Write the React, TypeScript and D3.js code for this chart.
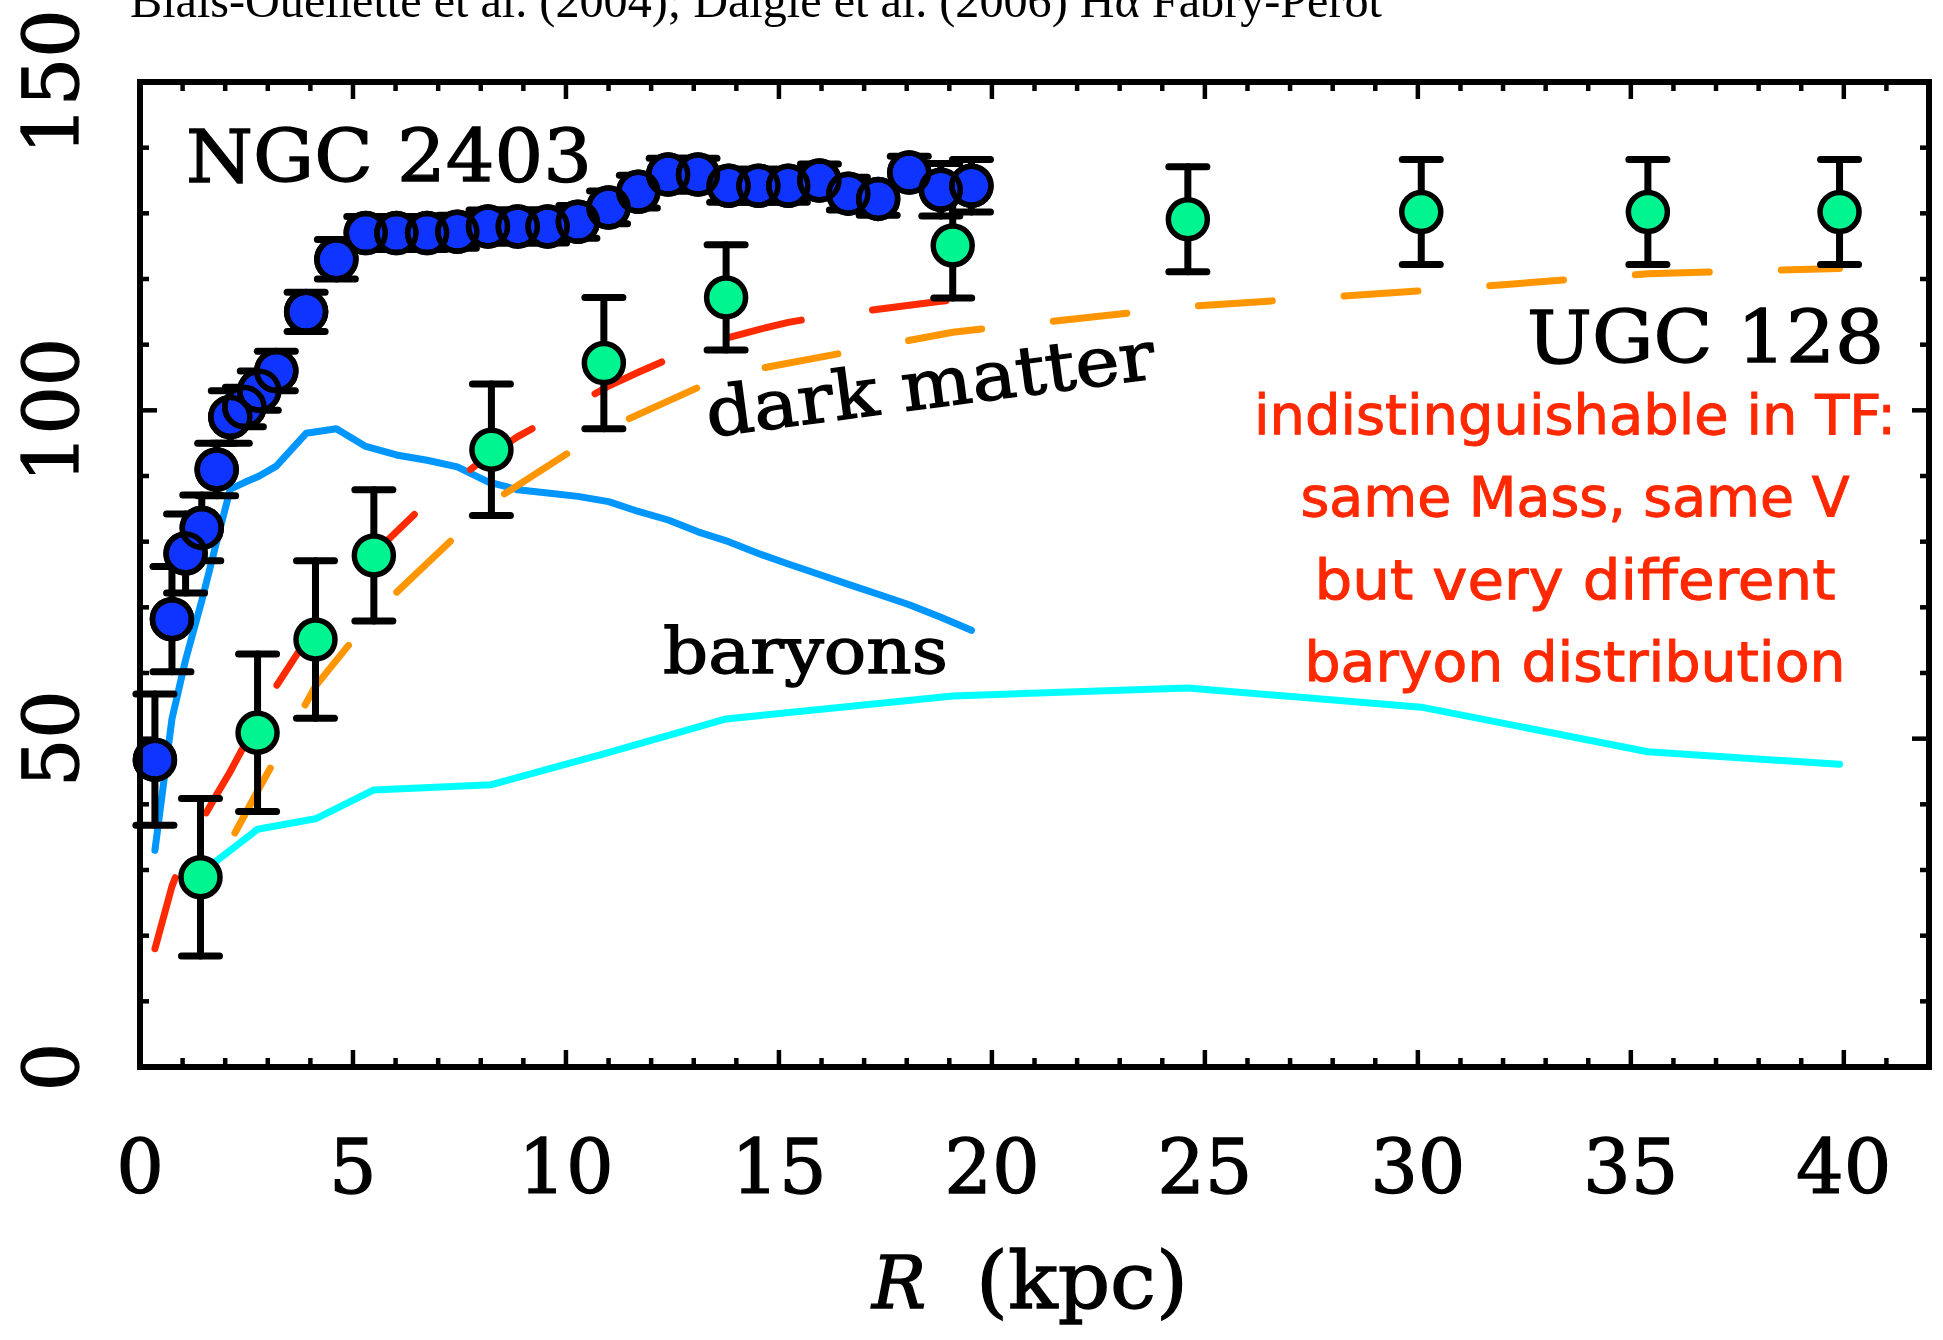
import React, { useEffect } from "react";
import * as d3 from "d3";

// ---- NGC 2403 (Hα Fabry-Perot rotation curve) ----
const ngcR = [0.35, 0.75, 1.07, 1.45, 1.8, 2.12, 2.45, 2.8, 3.2, 3.9, 4.61, 5.3, 6.02, 6.74, 7.45, 8.17, 8.87, 9.57, 10.28, 11.0, 11.7, 12.4, 13.1, 13.82, 14.52, 15.22, 15.95, 16.63, 17.33, 18.06, 18.8, 19.52];
const ngcV = [46.8, 68.2, 78.2, 82.1, 91.0, 99.0, 100.5, 103.0, 106.0, 115.0, 123.0, 127.0, 127.0, 127.0, 127.2, 128.0, 128.0, 128.0, 128.7, 130.9, 133.3, 135.9, 135.9, 134.2, 134.2, 134.2, 135.0, 133.0, 132.2, 136.2, 133.6, 134.2];
const ngcErr = [10, 8, 6, 5, 4, 4, 3, 3, 3, 3, 3, 2.5, 2.5, 2.5, 2.5, 2.5, 2.5, 2.5, 2.5, 2.5, 2.5, 2.5, 2.5, 2.5, 2.5, 2.5, 2.5, 2.5, 2.5, 2.5, 4, 4];
const ngcBaryons = [33, 53, 62, 71, 80, 88, 89, 90, 91.5, 96.5, 97.2, 94.5, 93.2, 92.4, 91.4, 89.1, 87.9, 87.4, 86.9, 86.1, 84.6, 83.3, 81.5, 80, 78.2, 76.6, 75, 73.5, 72, 70.4, 68.5, 66.5];
const ngcDarkMatter = [18, 27.5, 33, 37.5, 41.5, 45, 49, 53.5, 58, 65, 71, 77, 81.5, 86, 89.5, 93, 96, 98.5, 101, 103.7, 105.8, 107.8, 109.6, 111.1, 112.3, 113.4, 114.2, 114.8, 115.4, 116.0, 116.6, 117.2];

// ---- UGC 128 ----
const ugcR = [1.42, 2.76, 4.12, 5.49, 8.25, 10.89, 13.76, 19.08, 24.6, 30.08, 35.4, 39.9];
const ugcV = [28.9, 50.9, 65.1, 77.9, 94.0, 107.2, 117.2, 125.1, 129.1, 130.2, 130.2, 130.2];
const ugcErr = [12, 12, 12, 10, 10, 10, 8, 8, 8, 8, 8, 8];
const ugcBaryons = [29.5, 36.2, 37.8, 42.2, 43.0, 47.7, 53.0, 56.5, 57.7, 54.8, 48.0, 46.1];
const ugcDarkMatter = [26, 42, 58, 69, 86, 97, 105.4, 111.9, 115.8, 118.2, 120.8, 121.6];

// ---- axes ----
const xMajorTicks = [0, 5, 10, 15, 20, 25, 30, 35, 40];
const yMajorTicks = [0, 50, 100, 150];
const xDomain = [0, 42];
const yDomain = [0, 150];

const titleText = "Blais-Ouellette et al. (2004); Daigle et al. (2006) Hα Fabry-Perot";
const noteLines = ["indistinguishable in TF:", "same Mass, same V", "but very different", "baryon distribution"];
const noteWidths = [642, 549, 521, 541];

const W = 1943;
const H = 1340;
const plot = { left: 140, right: 1929, top: 82, bottom: 1067 };

const C = {
  ngcFill: "#1034ff",
  ugcFill: "#00f590",
  ngcBaryon: "#0096ff",
  ugcBaryon: "#00ffff",
  ngcDM: "#ff2a00",
  ugcDM: "#ff9600",
  note: "#ff2800",
};

const serif = "'DejaVu Serif', serif";

export default function App() {
  useEffect(() => {
    document.body.style.margin = "0";
  }, []);

  const x = d3.scaleLinear().domain(xDomain).range([plot.left, plot.right]);
  const y = d3.scaleLinear().domain(yDomain).range([plot.bottom, plot.top]);

  const line = d3
    .line<[number, number]>()
    .x((d) => x(d[0]))
    .y((d) => y(d[1]));

  const zip = (a: number[], b: number[]) => a.map((v, i) => [v, b[i]] as [number, number]);

  const xMinor = d3.range(0, 43, 1).filter((v) => v % 5 !== 0);
  const yMinor = d3.range(0, 151, 10).filter((v) => v % 50 !== 0);

  const majorLen = 17;
  const minorLen = 9;
  const tickW = 4.5;
  const capHalf = 19;
  const symR = 19.5;
  const symStroke = 5.5;
  const barW = 7;
  const lineW = 7;
  const txt = { stroke: "#000", strokeWidth: 1.3 };

  const errorBars = (rs: number[], vs: number[], es: number[], key: string) =>
    rs.map((r, i) => {
      const cx = x(r);
      const y0 = y(vs[i] - es[i]);
      const y1 = y(vs[i] + es[i]);
      return (
        <g key={key + i} stroke="#000" strokeWidth={barW} strokeLinecap="round">
          <line x1={cx} x2={cx} y1={y0} y2={y1} />
          <line x1={cx - capHalf} x2={cx + capHalf} y1={y0} y2={y0} />
          <line x1={cx - capHalf} x2={cx + capHalf} y1={y1} y2={y1} />
        </g>
      );
    });

  return (
    <svg
      width={W}
      height={H}
      viewBox={`0 0 ${W} ${H}`}
      style={{ display: "block", position: "absolute", left: 0, top: 0, background: "#fff" }}
    >
      <rect x={0} y={0} width={W} height={H} fill="#fff" />

      {/* reference line above the frame */}
      <text x={130} y={17} fontFamily="'Liberation Serif', 'Times New Roman', serif" fontSize={48} textLength={1252} lengthAdjust="spacingAndGlyphs">
        {titleText}
      </text>

      {/* model curves */}
      <path d={line(zip(ugcR, ugcBaryons)) || ""} fill="none" stroke={C.ugcBaryon} strokeWidth={lineW} strokeLinejoin="round" strokeLinecap="round" />
      <path d={line(zip(ngcR, ngcBaryons)) || ""} fill="none" stroke={C.ngcBaryon} strokeWidth={lineW} strokeLinejoin="round" strokeLinecap="round" />
      <path d={line(zip(ngcR, ngcDarkMatter)) || ""} fill="none" stroke={C.ngcDM} strokeWidth={lineW} strokeDasharray="74 72" strokeLinecap="round" />
      <path d={line(zip(ugcR, ugcDarkMatter)) || ""} fill="none" stroke={C.ugcDM} strokeWidth={lineW} strokeDasharray="74 72" strokeDashoffset={74} strokeLinecap="round" />

      {/* UGC 128 points */}
      {errorBars(ugcR, ugcV, ugcErr, "ue")}
      {ugcR.map((r, i) => (
        <circle key={"uc" + i} cx={x(r)} cy={y(ugcV[i])} r={symR} fill={C.ugcFill} stroke="#000" strokeWidth={symStroke} />
      ))}

      {/* NGC 2403 points: fills first, outlines on top */}
      {errorBars(ngcR, ngcV, ngcErr, "ne")}
      {ngcR.map((r, i) => (
        <circle key={"nf" + i} cx={x(r)} cy={y(ngcV[i])} r={symR} fill={C.ngcFill} stroke="#000" strokeWidth={symStroke} />
      ))}
      {ngcR.map((r, i) => (
        <circle key={"no" + i} cx={x(r)} cy={y(ngcV[i])} r={symR} fill="none" stroke="#000" strokeWidth={symStroke} />
      ))}

      {/* frame */}
      <rect
        x={plot.left}
        y={plot.top}
        width={plot.right - plot.left}
        height={plot.bottom - plot.top}
        fill="none"
        stroke="#000"
        strokeWidth={6}
      />

      {/* ticks */}
      <g stroke="#000" strokeWidth={tickW}>
        {xMajorTicks.concat(xMinor).map((v) => {
          const len = v % 5 === 0 ? majorLen : minorLen;
          return (
            <g key={"xt" + v}>
              <line x1={x(v)} x2={x(v)} y1={plot.bottom} y2={plot.bottom - len} />
              <line x1={x(v)} x2={x(v)} y1={plot.top} y2={plot.top + len} />
            </g>
          );
        })}
        {yMajorTicks.concat(yMinor).map((v) => {
          const len = v % 50 === 0 ? majorLen : minorLen;
          return (
            <g key={"yt" + v}>
              <line x1={plot.left} x2={plot.left + len} y1={y(v)} y2={y(v)} />
              <line x1={plot.right} x2={plot.right - len} y1={y(v)} y2={y(v)} />
            </g>
          );
        })}
      </g>

      {/* tick labels */}
      {xMajorTicks.map((v) => (
        <text key={"xl" + v} x={x(v)} y={1193} textAnchor="middle" fontFamily={serif} fontSize={75} {...txt}>
          {v}
        </text>
      ))}
      {yMajorTicks.map((v) => (
        <text
          key={"yl" + v}
          transform={`translate(78, ${y(v)}) rotate(-90)`}
          textAnchor="middle"
          fontFamily={serif}
          fontSize={76}
          {...txt}
        >
          {v}
        </text>
      ))}

      {/* axis title */}
      <text x={872} y={1308} fontFamily={serif} fontStyle="italic" fontSize={72} {...txt}>
        R
      </text>
      <text x={976} y={1308} fontFamily={serif} fontSize={78} textLength={212} lengthAdjust="spacingAndGlyphs" {...txt}>
        (kpc)
      </text>

      {/* galaxy names and curve labels */}
      <text x={186} y={182} fontFamily={serif} fontSize={72} textLength={406} lengthAdjust="spacingAndGlyphs" {...txt}>
        NGC 2403
      </text>
      <text x={1527} y={363} fontFamily={serif} fontSize={73} textLength={357} lengthAdjust="spacingAndGlyphs" {...txt}>
        UGC 128
      </text>
      <text
        transform="translate(709, 437) rotate(-7.5)"
        fontFamily={serif}
        fontSize={68}
        textLength={452}
        lengthAdjust="spacingAndGlyphs"
        {...txt}
      >
        dark matter
      </text>
      <text x={663} y={673} fontFamily={serif} fontSize={64} textLength={285} lengthAdjust="spacingAndGlyphs" {...txt}>
        baryons
      </text>

      {/* annotation */}
      {noteLines.map((s, i) => (
        <text
          key={"note" + i}
          x={1575}
          y={434 + i * 82.4}
          textAnchor="middle"
          fill={C.note}
          stroke={C.note}
          strokeWidth={1}
          fontFamily="'Comic Sans MS', 'DejaVu Sans', sans-serif"
          fontSize={56}
          textLength={noteWidths[i]}
          lengthAdjust="spacingAndGlyphs"
        >
          {s}
        </text>
      ))}
    </svg>
  );
}
